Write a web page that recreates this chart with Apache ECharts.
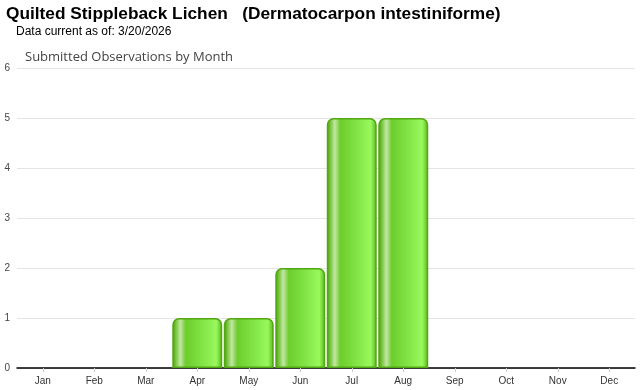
<!DOCTYPE html>
<html><head><meta charset="utf-8">
<script src="https://cdn.jsdelivr.net/npm/echarts@6/dist/echarts.min.js"></script>
<style>html,body{margin:0;padding:0;background:#fff}#c{width:640px;height:390px}</style>
</head><body><div id="c"></div>
<script>
const months = ['Jan','Feb','Mar','Apr','May','Jun','Jul','Aug','Sep','Oct','Nov','Dec'];
const observations = [0,0,0,1,1,2,5,5,0,0,0,0];
const yTicks = [0,1,2,3,4,5,6];
const titleText = 'Quilted Stippleback Lichen   (Dermatocarpon intestiniforme)';
const subText = 'Data current as of: 3/20/2026';
const chartLabel = 'Submitted Observations by Month';

const chart = echarts.init(document.getElementById('c'), null, {renderer:'canvas'});
const barGrad = new echarts.graphic.LinearGradient(0,0,1,0,[
  {offset:0, color:'#4a9a10'},
  {offset:0.08, color:'#7cc943'},
  {offset:0.16, color:'#c4e6a4'},
  {offset:0.27, color:'#6ccd2c'},
  {offset:0.6, color:'#82e446'},
  {offset:0.88, color:'#98f95c'},
  {offset:1, color:'#5ab41c'}
]);
const barData = observations.map(v => v === 0
  ? {value:v, itemStyle:{borderWidth:0, opacity:0}}
  : {value:v});
chart.setOption({
  animation:false,
  title:[
    {text:titleText, left:6, top:6, padding:0, textStyle:{fontFamily:'Liberation Sans, Arial, sans-serif', fontSize:17.3, fontWeight:'bold', color:'#000'}},
    {text:subText, left:16, top:26, padding:0, textStyle:{fontFamily:'Liberation Sans, Arial, sans-serif', fontSize:12, fontWeight:'normal', color:'#000'}},
    {text:chartLabel, left:25, top:51, padding:0, textStyle:{fontFamily:'Open Sans, DejaVu Sans, sans-serif', fontSize:13, fontWeight:'normal', color:'#444'}}
  ],
  grid:{left:17, right:5, top:68, bottom:22, containLabel:false},
  xAxis:{
    type:'category', data:months,
    axisLine:{lineStyle:{color:'#000', width:1.5}},
    axisTick:{show:true, alignWithLabel:true, length:4, lineStyle:{color:'#ccc'}},
    axisLabel:{fontFamily:'Liberation Sans, Arial, sans-serif', fontSize:10, color:'#333', margin:8}
  },
  yAxis:{
    type:'value', min:yTicks[0], max:yTicks[yTicks.length-1], interval:1,
    axisLine:{show:false}, axisTick:{show:false},
    splitLine:{lineStyle:{color:'#e4e4e4'}},
    axisLabel:{fontFamily:'Liberation Sans, Arial, sans-serif', fontSize:10, color:'#444', margin:7}
  },
  series:[{
    type:'bar', data:barData, barCategoryGap:'3%',
    itemStyle:{color:barGrad, borderColor:'#52a812', borderWidth:1.5, borderRadius:[6,6,0,0]}
  }]
});
</script></body></html>
